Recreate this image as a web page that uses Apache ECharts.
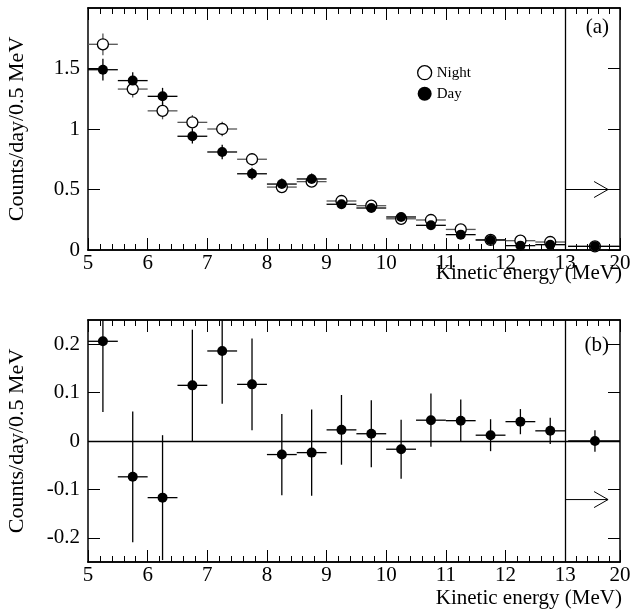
<!DOCTYPE html>
<html><head><meta charset="utf-8">
<script src="https://cdn.jsdelivr.net/npm/echarts@6/dist/echarts.min.js"></script>
<style>html,body{margin:0;background:#fff}#c{width:638px;height:614px}</style>
</head><body><div id="c"></div>
<script>
// bin centres (13.5 stands for the 13-20 MeV bin, drawn compressed)
var energy = [5.25,5.75,6.25,6.75,7.25,7.75,8.25,8.75,9.25,9.75,10.25,10.75,11.25,11.75,12.25,12.75,13.5];
var binHalf = [0.25,0.25,0.25,0.25,0.25,0.25,0.25,0.25,0.25,0.25,0.25,0.25,0.25,0.25,0.25,0.25,0.45];
var night = [1.70,1.33,1.15,1.055,1.0,0.75,0.52,0.565,0.405,0.366,0.258,0.248,0.17,0.083,0.077,0.066,0.03];
var nightErr = [0.09,0.07,0.07,0.06,0.06,0.05,0.045,0.045,0.035,0.03,0.03,0.025,0.02,0.015,0.012,0.01,0.01];
var day = [1.49,1.40,1.27,0.94,0.81,0.63,0.545,0.587,0.378,0.347,0.273,0.204,0.127,0.083,0.036,0.044,0.03];
var dayErr = [0.09,0.07,0.07,0.06,0.06,0.05,0.045,0.045,0.035,0.03,0.03,0.025,0.02,0.015,0.012,0.01,0.01];
var diff = [0.206,-0.074,-0.117,0.115,0.186,0.117,-0.028,-0.024,0.023,0.015,-0.017,0.043,0.042,0.012,0.04,0.021,0];
var diffErr = [0.146,0.135,0.129,0.115,0.109,0.095,0.084,0.089,0.072,0.069,0.061,0.055,0.044,0.033,0.026,0.027,0.022];
var xTicks = [5,6,7,8,9,10,11,12,13,13.92];
var xTickLabels = ['5','6','7','8','9','10','11','12','13','20'];
var xMinor = [5.2,5.4,5.6,5.8,6.2,6.4,6.6,6.8,7.2,7.4,7.6,7.8,8.2,8.4,8.6,8.8,9.2,9.4,9.6,9.8,
  10.2,10.4,10.6,10.8,11.2,11.4,11.6,11.8,12.2,12.4,12.6,12.8,13.18,13.37,13.55,13.74];
var yTicksTop = [0,0.5,1,1.5];
var yTicksBot = [-0.2,-0.1,0,0.1,0.2];
// arrows marking the 13-20 MeV bin: [x start, x end, y]
var arrowTop = [13, 13.72, 0.5];
var arrowBot = [13, 13.72, -0.121];

var font = 'Liberation Serif';
var chart = echarts.init(document.getElementById('c'));

function errSeries(name, vals, errs, xi, yi, color) {
  return {
    name: name, type: 'custom', xAxisIndex: xi, yAxisIndex: yi, z: 2, silent: true, clip: true,
    data: energy.map(function (e, i) { return [e, vals[i], errs[i], binHalf[i]]; }),
    renderItem: function (params, api) {
      var x = api.value(0), y = api.value(1), er = api.value(2), h = api.value(3);
      var a = api.coord([x, y - er]), b = api.coord([x, y + er]);
      var l = api.coord([x - h, y]), r = api.coord([x + h, y]);
      var st = {stroke: color, lineWidth: 1.3};
      return {type: 'group', children: [
        {type: 'line', shape: {x1: a[0], y1: a[1], x2: b[0], y2: b[1]}, style: st},
        {type: 'line', shape: {x1: l[0], y1: l[1], x2: r[0], y2: r[1]}, style: st}
      ]};
    }
  };
}
function arrowSeries(arr, xi, yi) {
  return {
    type: 'custom', xAxisIndex: xi, yAxisIndex: yi, silent: true, z: 3,
    data: [arr],
    renderItem: function (params, api) {
      var s = api.coord([api.value(0), api.value(2)]), e = api.coord([api.value(1), api.value(2)]);
      var st = {stroke: '#000', lineWidth: 1, fill: null};
      return {type: 'group', children: [
        {type: 'line', shape: {x1: s[0], y1: s[1], x2: e[0], y2: e[1]}, style: st},
        {type: 'polyline', shape: {points: [[e[0] - 14, e[1] - 8], [e[0], e[1]], [e[0] - 14, e[1] + 8]]}, style: st}
      ]};
    }
  };
}

function xAx(gi, pos, labels, ticks, len) {
  return {
    type: 'value', gridIndex: gi, position: pos, min: 5, max: 13.92,
    axisLine: {lineStyle: {color: '#000', width: 1.5}, onZero: false},
    axisTick: {inside: true, length: len, customValues: ticks, lineStyle: {color: '#000'}},
    axisLabel: {show: labels, customValues: xTicks, margin: 3, fontFamily: font, fontSize: 21, color: '#000',
      formatter: function (v) { var i = xTicks.indexOf(v); return i >= 0 ? xTickLabels[i] : ''; }},
    splitLine: {show: false}
  };
}
function yAx(gi, pos, min, max, ticks, labels, interval) {
  return {
    type: 'value', gridIndex: gi, position: pos, min: min, max: max, interval: interval,
    name: labels ? 'Counts/day/0.5 MeV' : '', nameLocation: 'middle', nameGap: 60,
    nameTextStyle: {fontFamily: font, fontSize: 22, color: '#000'},
    axisLine: {lineStyle: {color: '#000', width: 1.5}},
    axisTick: {inside: true, length: 12, customValues: ticks, lineStyle: {color: '#000'}},
    axisLabel: {show: labels, customValues: ticks, fontFamily: font, fontSize: 21, color: '#000', margin: 8},
    splitLine: {show: false}
  };
}

var vline = function (v) { return {silent: true, symbol: 'none', lineStyle: {color: '#000', width: 1.3, type: 'solid'}, label: {show: false}, data: [{xAxis: v}]}; };
var txt = {fontFamily: font, fontSize: 21, fontWeight: 'normal', color: '#000'};

chart.setOption({
  animation: false,
  title: [
    {text: '(a)', right: 24, top: 12, textStyle: txt},
    {text: '(b)', right: 24, top: 330, textStyle: txt},
    {text: 'Kinetic energy (MeV)', right: 16, top: 263, padding: 0, textStyle: txt},
    {text: 'Kinetic energy (MeV)', right: 16, top: 588, padding: 0, textStyle: txt}
  ],
  legend: {
    orient: 'vertical', left: 412, top: 60, itemGap: 6, itemWidth: 14, itemHeight: 14,
    textStyle: {fontFamily: font, fontSize: 15, color: '#000'},
    data: [{name: 'Night', icon: 'circle', itemStyle: {color: '#fff', borderColor: '#000', borderWidth: 1.3}},
           {name: 'Day', icon: 'circle', itemStyle: {color: '#000'}}]
  },
  grid: [
    {left: 88, right: 18, top: 8, height: 242, outerBoundsMode: 'none', containLabel: false},
    {left: 88, right: 18, top: 320, height: 242, outerBoundsMode: 'none', containLabel: false}
  ],
  xAxis: [xAx(0, 'bottom', true, xTicks, 12), xAx(0, 'top', false, xTicks, 12),
          xAx(1, 'bottom', true, xTicks, 12), xAx(1, 'top', false, xTicks, 12),
          xAx(0, 'bottom', false, xMinor, 6), xAx(0, 'top', false, xMinor, 6),
          xAx(1, 'bottom', false, xMinor, 6), xAx(1, 'top', false, xMinor, 6)],
  yAxis: [yAx(0, 'left', 0, 2, yTicksTop, true, 0.5), yAx(0, 'right', 0, 2, yTicksTop, false, 0.5),
          yAx(1, 'left', -0.25, 0.25, yTicksBot, true, 0.05), yAx(1, 'right', -0.25, 0.25, yTicksBot, false, 0.05)],
  series: [
    errSeries('nightErr', night, nightErr, 0, 0, '#555'),
    errSeries('dayErr', day, dayErr, 0, 0, '#000'),
    {name: 'Night', type: 'scatter', xAxisIndex: 0, yAxisIndex: 0, z: 3, symbol: 'circle', symbolSize: 11,
      itemStyle: {color: '#fff', borderColor: '#000', borderWidth: 1.3, opacity: 1},
      data: energy.map(function (e, i) { return [e, night[i]]; }),
      markLine: vline(13)},
    {name: 'Day', type: 'scatter', xAxisIndex: 0, yAxisIndex: 0, z: 4, symbol: 'circle', symbolSize: 10,
      itemStyle: {color: '#000', opacity: 1},
      data: energy.map(function (e, i) { return [e, day[i]]; })},
    arrowSeries(arrowTop, 0, 0),
    {name: 'zero', type: 'line', xAxisIndex: 2, yAxisIndex: 2, symbol: 'none', silent: true, data: [],
      markLine: {silent: true, symbol: 'none', lineStyle: {color: '#000', width: 1.3, type: 'solid'}, label: {show: false},
        data: [{yAxis: 0}]}},
    errSeries('diffErr', diff, diffErr, 2, 2, '#000'),
    {name: 'diff', type: 'scatter', xAxisIndex: 2, yAxisIndex: 2, z: 4, symbol: 'circle', symbolSize: 10,
      itemStyle: {color: '#000', opacity: 1},
      data: energy.map(function (e, i) { return [e, diff[i]]; }),
      markLine: vline(13)},
    arrowSeries(arrowBot, 2, 2)
  ]
});
</script></body></html>
